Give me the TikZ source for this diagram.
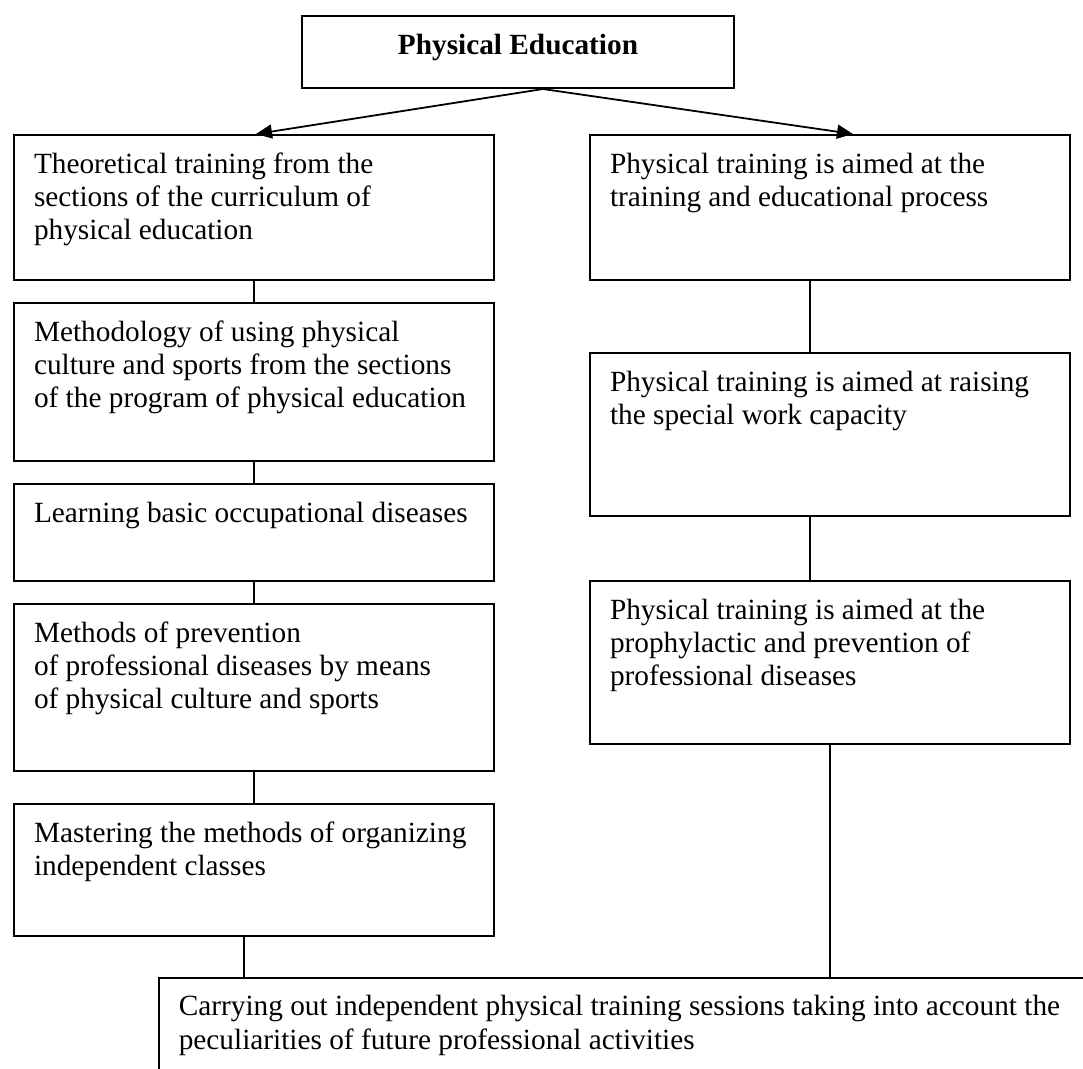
\documentclass[tikz,border=0pt]{standalone}
\usepackage{fontspec}
\setmainfont{Liberation Serif}
\usetikzlibrary{arrows.meta,positioning}

\newcommand{\boxtxt}[2]{\parbox[c][#1][t]{440pt}{\rule{0pt}{38pt}#2}}

\tikzset{
	stage/.style={draw, line width=2pt, anchor=north west, inner sep=0pt, inner xsep=20pt, align=left},
	link/.style={line width=1.3pt},
	arr/.style={line width=1.8pt, -{Triangle[length=16pt,width=14pt]}}
}

\begin{document}
\begin{tikzpicture}[x=1pt,y=-1pt,font=\fontsize{29.3}{33.35}\selectfont]
	\useasboundingbox (0,0) rectangle (1083,1068);
	\clip (0,0) rectangle (1083,1068);
	\fill[white] (0,0) rectangle (1083,1068);
	% top
	\node[draw, line width=2pt, anchor=north west, inner sep=0pt] (pe) at (301,15) {\parbox[c][72pt][t]{432pt}{\centering\rule{0pt}{38pt}\textbf{Physical Education}}};
	% left column
	\node[stage] (th) at (13,134) {\boxtxt{145pt}{Theoretical training from the\\ sections of the curriculum of\\ physical education}};
	\node[stage] (me) at (13,302) {\boxtxt{158pt}{Methodology of using physical\\ culture and sports from the sections\\ of the program of physical education}};
	\node[stage] (le) at (13,483) {\boxtxt{97pt}{Learning basic occupational diseases}};
	\node[stage] (mp) at (13,603) {\boxtxt{167pt}{Methods of prevention\\ of professional diseases by means\\ of physical culture and sports}};
	\node[stage] (mo) at (13,803) {\boxtxt{132pt}{Mastering the methods of organizing\\ independent classes}};
	% right column
	\node[stage] (a1) at (589,134) {\boxtxt{145pt}{Physical training is aimed at the\\ training and educational process}};
	\node[stage] (a2) at (589,352) {\boxtxt{163pt}{Physical training is aimed at raising\\ the special work capacity}};
	\node[stage] (a3) at (589,580) {\boxtxt{163pt}{Physical training is aimed at the\\ prophylactic and prevention of\\ professional diseases}};
	% bottom
	\node[draw, line width=1.6pt, anchor=north west, inner sep=0pt, inner xsep=20pt, align=left] (ca) at (158,977) {\parbox[c][150pt][t]{1000pt}{\rule{0pt}{38pt}Carrying out independent physical training sessions taking into account the\\ peculiarities of future professional activities}};

	\draw[arr] ([xshift=25pt]pe.south) -- ([xshift=2pt]th.north);
	\draw[arr] ([xshift=25pt]pe.south) -- ([xshift=23pt]a1.north);
	\draw[link] (th) -- (me);
	\draw[link] (me) -- (le);
	\draw[link] (le) -- (mp);
	\draw[link] (mp) -- (mo);
	\draw[link] ([xshift=-10pt]mo.south) -- ([xshift=-10pt]mo.south |- ca.north);
	\draw[link] ([xshift=-20pt]a1.south) -- ([xshift=-20pt]a2.north);
	\draw[link] ([xshift=-20pt]a2.south) -- ([xshift=-20pt]a3.north);
	\draw[link] (a3.south) -- (a3.south |- ca.north);
\end{tikzpicture}
\end{document}
